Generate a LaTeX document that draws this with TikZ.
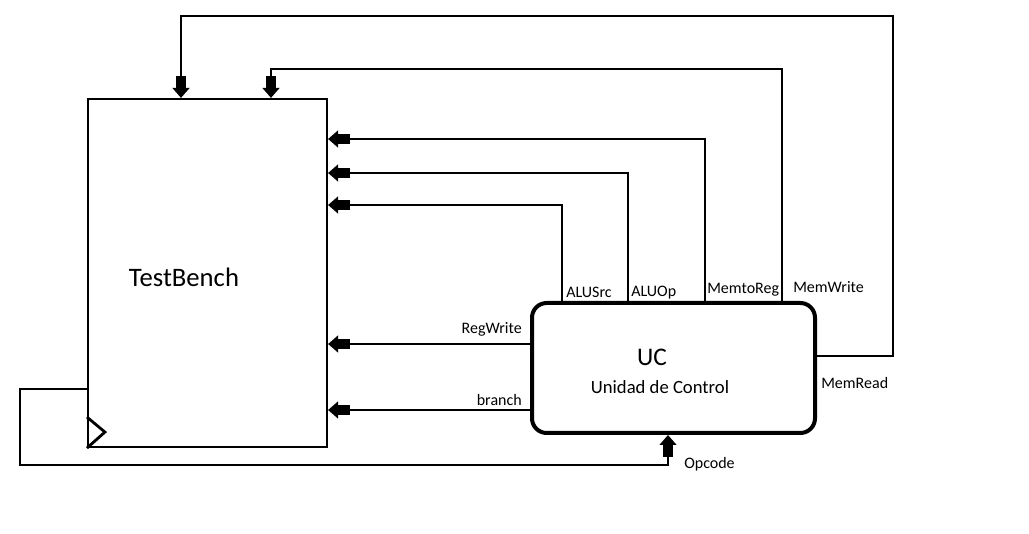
\documentclass[tikz,border=0pt]{standalone}
\usepackage{fontspec}
\setmainfont{Carlito}
\usetikzlibrary{arrows.meta}
\begin{document}
\begin{tikzpicture}[x=0.75pt,y=-0.75pt,
  wire/.style={line width=2.1pt},
  arr/.style={wire,-{Rectangle[length=9pt,width=7.5pt]Triangle[length=7.5pt,width=12.5pt]}},
  tbbox/.style={draw,line width=1.6pt,minimum width=179.25pt,minimum height=261pt,inner sep=0pt},
  ucbox/.style={draw,line width=3pt,rounded corners=11pt,minimum width=212.25pt,minimum height=97.5pt,inner sep=0pt},
  lbl/.style={inner sep=0pt,font=\fontsize{12}{14}\selectfont},
]
\useasboundingbox (0,0) rectangle (1029,534);
\node[tbbox] (tb) at (207.5,273) {};
\node[ucbox] (uc) at (673.5,368) {};
\node[font=\fontsize{20}{24}\selectfont] (tbl) at (184,277) {TestBench};
\node[font=\fontsize{19}{23}\selectfont] (ucl) at (652,357) {UC};
\node[font=\fontsize{14}{17}\selectfont] (ucs) at (660,387) {Unidad de Control};
% column coordinates
\coordinate (xs) at (562,205);
\coordinate (xo) at (628,173);
\coordinate (xm) at (705,139);
\coordinate (mw) at (782,69);
\coordinate (mwt) at (271,69);
\coordinate (mr) at (893,356);
\coordinate (mrt) at (893,16);
\coordinate (mrl) at (181,16);
\coordinate (rw) at (532,344);
\coordinate (br) at (532,410);
\coordinate (oc2) at (20,389);
\coordinate (oc3) at (20,465);
\coordinate (oc4) at (668,465);
% connectors
\draw[arr] (uc.north -| xs) -- (xs) -- (xs -| tb.east);
\draw[arr] (uc.north -| xo) -- (xo) -- (xo -| tb.east);
\draw[arr] (uc.north -| xm) -- (xm) -- (xm -| tb.east);
\draw[arr] (uc.north -| mw) -- (mw) -- (mwt) -- (mwt |- tb.north);
\draw[arr] (uc.east |- mr) -- (mr) -- (mrt) -- (mrl) -- (mrl |- tb.north);
\draw[arr] (uc.west |- rw) -- (tb.east |- rw);
\draw[arr] (uc.west |- br) -- (tb.east |- br);
\draw[arr] (tb.west |- oc2) -- (oc2) -- (oc3) -- (oc4) -- (oc4 |- uc.south);
% clock mark
\draw[wire] (tb.south west) ++(0,-31) -- ++(18,15) -- (tb.south west);
% labels
\node[lbl,anchor=base west] (l1) at (566,298) {ALUSrc};
\node[lbl,anchor=base west] (l2) at (631,297) {ALUOp};
\node[lbl,anchor=base west] (l3) at (707,294) {MemtoReg};
\node[lbl,anchor=base west] (l4) at (793,293) {MemWrite};
\node[lbl,anchor=base west] (l5) at (821,389) {MemRead};
\node[lbl,anchor=base east] (l6) at (522,334) {RegWrite};
\node[lbl,anchor=base east] (l7) at (522,406) {branch};
\node[lbl,anchor=base west] (l8) at (684,469) {Opcode};
\end{tikzpicture}
\end{document}
